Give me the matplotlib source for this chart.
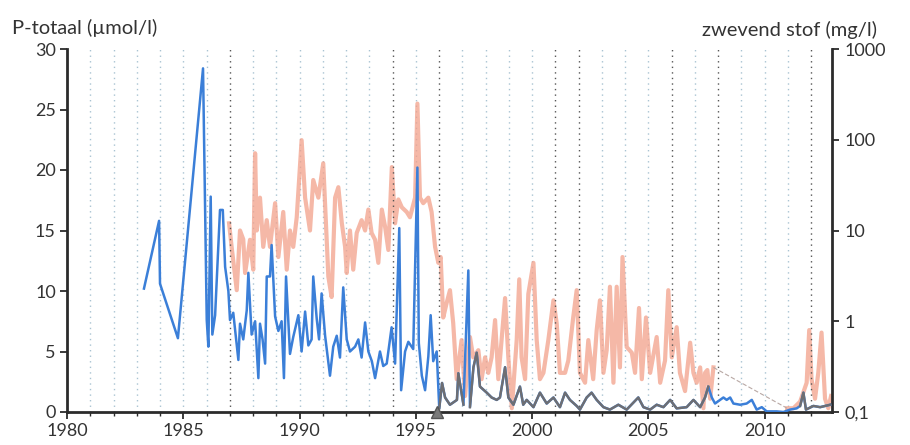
import numpy as np
import matplotlib
matplotlib.use("Agg")
import matplotlib.pyplot as plt

plt.rcParams['font.family'] = ['Lato', 'DejaVu Sans']

# ---------------- data ----------------
# P-totaal (umol/l), left axis
p_year = [1983.31, 1983.96, 1984.00, 1984.77, 1985.85,
          1986.01, 1986.08, 1986.18, 1986.25, 1986.37, 1986.58, 1986.70, 1986.80, 1986.94,
          1987.01, 1987.15, 1987.37, 1987.44, 1987.58, 1987.73, 1987.80, 1987.94,
          1988.09, 1988.23, 1988.30, 1988.41, 1988.52, 1988.59, 1988.73, 1988.80, 1988.95,
          1989.09, 1989.23, 1989.33, 1989.42, 1989.59, 1989.73, 1989.95,
          1990.09, 1990.24, 1990.38, 1990.52, 1990.59, 1990.74, 1990.84, 1990.95,
          1991.10, 1991.31, 1991.45, 1991.60, 1991.74, 1991.88,
          1992.03, 1992.17, 1992.39, 1992.53, 1992.67, 1992.82, 1992.96,
          1993.11, 1993.25, 1993.46, 1993.60, 1993.75, 1993.96,
          1994.11, 1994.29, 1994.37, 1994.54, 1994.68, 1994.89,
          1995.07, 1995.13, 1995.26, 1995.40, 1995.54, 1995.64, 1995.75, 1995.90,
          1996.01, 1996.13, 1996.26, 1996.47, 1996.77, 1996.83,
          1997.05, 1997.26, 1997.33, 1997.48, 1997.62, 1997.76,
          1998.05, 1998.26, 1998.48, 1998.62, 1998.84, 1998.98,
          1999.20, 1999.48, 1999.62, 1999.77,
          2000.06, 2000.34, 2000.63, 2000.92,
          2001.20, 2001.42, 2001.63, 2001.92,
          2002.06, 2002.35, 2002.56, 2002.78,
          2003.07, 2003.35, 2003.71,
          2004.07, 2004.57, 2004.79,
          2005.08, 2005.36, 2005.65, 2005.94,
          2006.22, 2006.65, 2006.94,
          2007.23, 2007.44, 2007.58, 2007.73, 2007.87,
          2008.09, 2008.23, 2008.37, 2008.52, 2008.66, 2008.95,
          2009.23, 2009.45, 2009.66, 2009.88,
          2010.09, 2010.52, 2010.81,
          2011.10, 2011.38, 2011.53, 2011.67, 2011.78,
          2012.10, 2012.39, 2012.82]
p_value = [10.2, 15.8, 10.6, 6.1, 28.4,
           7.6, 5.4, 17.8, 6.4, 8.0, 16.7, 16.7, 12.0, 10.0,
           7.6, 8.2, 4.3, 7.3, 6.0, 8.4, 11.5, 6.4,
           7.5, 2.8, 7.3, 6.0, 4.0, 11.2, 11.2, 13.8, 7.9,
           6.7, 7.5, 2.8, 11.2, 4.8, 6.2, 8.0,
           5.0, 8.3, 5.5, 6.0, 11.2, 7.7, 6.0, 9.8,
           6.3, 3.0, 5.4, 6.3, 4.5, 10.3,
           6.0, 5.0, 5.4, 6.0, 4.5, 7.4, 5.0,
           4.2, 2.8, 5.0, 3.8, 4.0, 7.0,
           4.0, 15.2, 1.8, 5.0, 5.8, 5.2,
           20.2, 5.7, 3.0, 1.8, 4.6, 8.0, 4.2, 5.0,
           0.3, 2.4, 1.2, 0.6, 1.0, 3.2,
           0.6, 11.7, 0.4, 3.7, 4.9, 2.1,
           1.6, 1.2, 1.0, 1.2, 3.7, 1.2,
           0.6, 2.1, 0.6, 1.0,
           0.4, 1.6, 0.7, 1.2,
           0.4, 1.6, 1.0, 0.5,
           0.2, 1.2, 1.6, 1.0,
           0.4, 0.2, 0.6,
           0.2, 1.2, 0.4,
           0.2, 0.6, 0.4, 1.0,
           0.3, 0.4, 1.0,
           0.4, 1.2, 2.1, 1.2, 0.7,
           1.0, 1.2, 1.0, 1.2, 0.7, 0.6,
           0.7, 1.0, 0.2, 0.4,
           0.05, 0.05, 0.0,
           0.2, 0.3, 0.5, 1.6, 0.2,
           0.5, 0.4, 0.6]

# zwevend stof (mg/l), right log axis -- first measuring period
zs_year_a = [1986.97, 1987.08, 1987.30, 1987.44, 1987.58, 1987.66, 1987.87,
             1988.01, 1988.09, 1988.16, 1988.30, 1988.44, 1988.59, 1988.73, 1988.95,
             1989.09, 1989.30, 1989.45, 1989.59, 1989.73, 1989.88,
             1990.09, 1990.24, 1990.45, 1990.59, 1990.81,
             1991.02, 1991.17, 1991.24, 1991.38, 1991.53, 1991.67, 1991.82, 1991.96,
             1992.03, 1992.17, 1992.31, 1992.46, 1992.67, 1992.82, 1992.96,
             1993.10, 1993.25, 1993.39, 1993.54, 1993.68, 1993.82, 1993.97,
             1994.11, 1994.25, 1994.40, 1994.61, 1994.75, 1994.97,
             1995.07, 1995.18, 1995.32, 1995.54, 1995.68, 1995.83, 1995.97,
             1996.07, 1996.18, 1996.33, 1996.47, 1996.61, 1996.76, 1996.97,
             1997.12, 1997.33, 1997.47, 1997.69, 1997.83, 1997.98,
             1998.12, 1998.26, 1998.41, 1998.55, 1998.84, 1998.98,
             1999.13, 1999.34, 1999.45, 1999.55, 1999.70, 1999.84,
             2000.06, 2000.20, 2000.34, 2000.49, 2000.70, 2000.92,
             2001.06, 2001.20, 2001.42, 2001.56, 2001.77, 2001.92,
             2002.06, 2002.28, 2002.42, 2002.63, 2002.78, 2002.92,
             2003.07, 2003.21, 2003.35, 2003.50, 2003.64, 2003.78, 2003.89,
             2004.07, 2004.29, 2004.43, 2004.60, 2004.72, 2004.90,
             2005.08, 2005.36, 2005.51, 2005.72, 2005.86,
             2006.01, 2006.22, 2006.36, 2006.58, 2006.80, 2006.94,
             2007.08, 2007.23, 2007.37, 2007.44, 2007.54, 2007.66, 2007.80]
zs_value_a = [12, 6.6, 2.2, 10, 8, 3.4, 7.9,
              3.7, 71, 10, 23, 6.6, 13, 6.6, 20,
              5.1, 16, 3.7, 10, 6.6, 14,
              99, 23, 10, 36, 23,
              55, 7.9, 3.1, 1.85, 23, 30, 12, 6.6,
              3.4, 10, 3.7, 9.4, 13, 10, 17,
              9.4, 7.9, 4.4, 17, 11, 6.1, 50,
              12, 22, 18, 16, 14, 23,
              250, 23, 20, 23, 16, 6.6, 4.4,
              5.1, 1.1, 1.6, 2.2, 0.95, 0.23, 0.62,
              0.15, 0.67, 0.4, 0.48, 0.23, 0.4,
              0.27, 0.4, 1.03, 0.23, 1.8, 0.4,
              0.11, 0.62, 2.9, 0.4, 0.23, 2.0,
              4.4, 0.62, 0.23, 0.27, 0.62, 1.7,
              0.95, 0.27, 0.27, 0.37, 1.1, 2.2,
              0.27, 0.21, 0.62, 0.23, 0.8, 1.7,
              0.27, 0.48, 2.4, 0.21, 2.4, 0.31, 5.1,
              0.52, 0.45, 0.27, 1.4, 0.23, 1.1,
              0.27, 0.67, 0.21, 0.37, 2.2,
              0.4, 0.86, 0.27, 0.17, 0.58, 0.27,
              0.21, 0.31, 0.11, 0.27, 0.29, 0.14, 0.31]
# second measuring period
zs_year_b = [2010.97, 2011.24, 2011.53, 2011.81, 2011.92, 2012.02, 2012.17,
             2012.31, 2012.45, 2012.60, 2012.74, 2012.86]
zs_value_b = [0.11, 0.11, 0.13, 0.21, 0.8, 0.23, 0.14, 0.27, 0.75, 0.14, 0.11, 0.15]

marker_year = 1995.9
grid_years = list(range(1981, 2013))
dark_grid_years = [1987, 1994, 1996, 2001, 2002, 2006, 2008, 2012]
x_major = [1980, 1985, 1990, 1995, 2000, 2005, 2010]
left_ticks = [0, 5, 10, 15, 20, 25, 30]
right_ticks = [0.1, 1, 10, 100, 1000]
right_labels = ['0,1', '1', '10', '100', '1000']

# ---------------- figure ----------------
fig = plt.figure(figsize=(9.10, 4.45), dpi=100)
ax = fig.add_axes([67/910, 1-412/445, (832-67)/910, (412-49)/445])
ax2 = ax.twinx()
ax.set_zorder(ax2.get_zorder() + 1)
ax.patch.set_visible(False)

spine_c = '#2b2b2b'
txt_c = '#333333'

# grid
for yr in grid_years:
    if yr in dark_grid_years:
        ax.axvline(yr, color='#555555', lw=1.0, ls=(0, (1, 3)), zorder=0.5)
    else:
        ax2.axvline(yr, color='#a9c3d2', lw=1.0, ls=(0, (1, 3)), zorder=0.5)

# zwevend stof on log axis
pink = '#f2a08a'
ax2.plot(zs_year_a, zs_value_a, color=pink, lw=3.0, alpha=0.75, zorder=2)
ax2.plot(zs_year_b, zs_value_b, color=pink, lw=3.0, alpha=0.75, zorder=2)
ax2.plot([zs_year_a[-1], zs_year_b[0]], [zs_value_a[-1], zs_value_b[0]],
         color='#b8a8a4', lw=0.8, ls=(0, (4, 2)), zorder=2)

# P-totaal
py = np.array(p_year)
pv = np.array(p_value)
ax.plot(py, pv, color='#3b7fd8', lw=1.8, zorder=3)
overlap = (py >= 1996.0) & ((py <= 2007.7) | (py >= 2011.45)) & (pv < 8)
pv_gray = np.where(overlap, pv, np.nan)
ax.plot(py, pv_gray, color='#6e6e72', lw=1.7, zorder=4)

ax.plot([marker_year], [0], marker='^', color='#7a7a7a', ms=9, clip_on=False, zorder=6,
        markeredgecolor='#555555')

# axes
ax.set_xlim(1980, 2012.9)
ax.set_ylim(0, 30)
ax2.set_yscale('log')
ax2.set_ylim(0.1, 1000)

ax.set_xticks(x_major)
ax.set_xticklabels([str(v) for v in x_major])
ax.set_xticks(grid_years, minor=True)
ax.set_yticks(left_ticks)
ax.set_yticklabels([str(v) for v in left_ticks])
ax2.set_yticks(right_ticks)
ax2.set_yticklabels(right_labels)
ax2.yaxis.set_minor_locator(matplotlib.ticker.NullLocator())

for a in (ax, ax2):
    a.spines['top'].set_visible(False)
    for s in a.spines.values():
        s.set_color(spine_c)
        s.set_linewidth(2.0)
ax.spines['right'].set_visible(False)
ax2.spines['left'].set_visible(False)
ax2.spines['bottom'].set_visible(False)

ax.tick_params(axis='both', which='major', direction='out', length=5, width=1.3,
               color=spine_c, labelsize=13, labelcolor=txt_c, pad=3)
ax.tick_params(axis='x', which='minor', direction='out', length=3, width=1.0, color=spine_c)
ax2.tick_params(axis='y', which='major', direction='out', length=5, width=1.3,
                color=spine_c, labelsize=13, labelcolor=txt_c, pad=4)

fig.text(12/910, 1-28/445, 'P-totaal (µmol/l)', fontsize=14.5, color=txt_c,
         ha='left', va='center')
fig.text(877/910, 1-30/445, 'zwevend stof (mg/l)', fontsize=14.5, color=txt_c,
         ha='right', va='center')

fig.savefig('out.png', dpi=100)
